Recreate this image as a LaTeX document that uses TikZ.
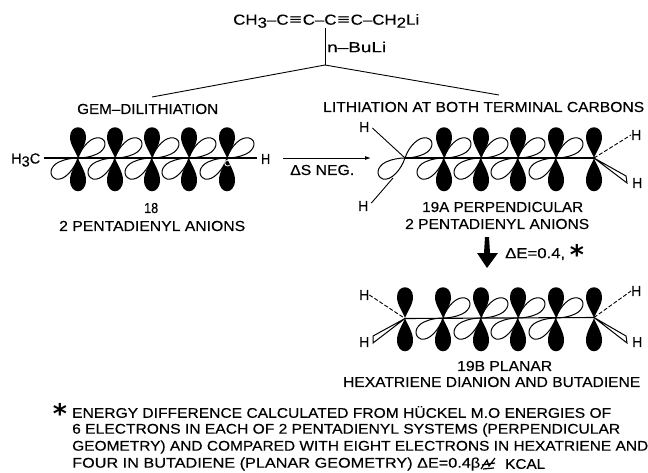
\documentclass[tikz,border=0pt]{standalone}
\usetikzlibrary{arrows.meta}
\usepackage{fontspec}
\setmainfont[FakeBold=0.35]{Liberation Sans}
\newfontfamily\symfont{DejaVu Sans}
\newcommand{\fit}[2]{\resizebox{#1pt}{\height}{#2}}
\newcommand{\subs}[1]{\raisebox{-3pt}{#1}}
\newcommand{\blackp}[2]{\fill[black,shift={(#1,#2)}] (0,0) .. controls (-2,-6) and (-8,-13) .. (-8,-21) .. controls (-8,-34) and (8,-34) .. (8,-21) .. controls (8,-13) and (2,-6) .. (0,0) .. controls (2,6) and (8,14) .. (8,22) .. controls (8,37) and (-8,37) .. (-8,22) .. controls (-8,14) and (-2,6) .. (0,0) -- cycle;}
\newcommand{\whitep}[2]{\draw[orb,shift={(#1,#2)}] (0,0) .. controls (4,-12) and (14,-22) .. (22,-20) .. controls (30,-18) and (28,-8) .. (19,-4) .. controls (13,-1) and (5,0) .. (0,0) .. controls (-5,0) and (-13,1) .. (-19,4) .. controls (-28,8) and (-30,18) .. (-22,21) .. controls (-14,23) and (-4,12) .. (0,0) -- cycle;}
\tikzset{
  orb/.style={draw=black,fill=white,line width=1pt},
  txt/.style={inner sep=0pt,anchor=west,font=\fontsize{14.5}{16}\selectfont,text=black},
  small/.style={inner sep=0pt,anchor=west,font=\fontsize{14}{15}\selectfont,text=black},
  starmark/.style={inner sep=0pt,font=\fontsize{27}{27}\selectfont\symfont\bfseries,text=black},
  bond/.style={line width=0.9pt},
  axisline/.style={line width=1.4pt},
}
\begin{document}
\begin{tikzpicture}[x=1pt,y=-1pt]
\useasboundingbox (0,0) rectangle (648,472);
% top formula
\node[txt] (formula) at (233,21) {\fit{186}{CH\subs{3}–C{\symfont≡}C–C{\symfont≡}C–CH\subs{2}Li}};
\node[txt] (buli) at (327,47) {\fit{59}{n–BuLi}};
\coordinate (fork) at (325,65);
\coordinate (ftop) at (325,28);
\coordinate (fl) at (152,97);
\coordinate (fr) at (499,95);
\draw[bond] (ftop) -- (fork);
\draw[bond] (fl) -- (fork) -- (fr);
\node[txt] (gem) at (77,109) {\fit{141}{GEM–DILITHIATION}};
\node[txt] (lith) at (323,107) {\fit{321}{LITHIATION AT BOTH TERMINAL CARBONS}};
% 18
\foreach \x in {78,115,152,189,227} {\whitep{\x}{158}}
\coordinate (a1) at (44,158); \coordinate (a2) at (257,158);
\draw[axisline] (a1) -- (a2);
\foreach \x in {78,115,152,189,227} {\blackp{\x}{158}}
\draw[white,line width=0.8pt] (230,165) arc (40:320:3);
\node[txt] (h3c) at (11,160) {\fit{29}{H\subs{3}C}};
\node[txt] (hr) at (261,159) {\fit{9}{H}};
\node[txt] (n18) at (144,208) {\fit{14}{18}};
\node[txt] (p18) at (59,226) {\fit{186}{2 PENTADIENYL ANIONS}};
% arrow
\coordinate (ar1) at (283,158); \coordinate (ar2) at (371,158);
\draw[bond,-{Latex[length=6pt,width=4pt]}] (ar1) -- (ar2);
\node[txt] (ds) at (290,170) {\fit{64}{ΔS NEG.}};
% 19A
\foreach \x in {405,444,481,518,556} {\whitep{\x}{158}}
\coordinate (b1) at (405,158); \coordinate (b2) at (594,158);
\draw[axisline] (b1) -- (b2);
\foreach \x in {444,481,518,556,594} {\blackp{\x}{158}}
\node[txt] (ha1) at (359,127) {\fit{10}{H}};
\node[txt] (ha2) at (358,206) {\fit{10}{H}};
\node[txt] (ha3) at (631,135) {\fit{10}{H}};
\node[txt] (ha4) at (632,183) {\fit{10}{H}};
\draw[bond] (ha1.east)++(3,1) -- (b1);
\draw[bond] (ha2.east)++(3,-3) -- (393,178);
\draw[bond,dash pattern=on 4pt off 2pt] (b2) -- (ha3.west);
\draw[orb,line join=miter] (b2) -- (626,176) -- (627,183) -- cycle;
\node[txt] (a19) at (422,207) {\fit{161}{19A PERPENDICULAR}};
\node[txt] (p19) at (405,224) {\fit{184}{2 PENTADIENYL ANIONS}};
% thick arrow
\fill[black] (485,237) -- (489,237) -- (490,253) -- (498,253) -- (487,268) -- (477,253) -- (484,253) -- cycle;
\node[txt] (de) at (505,254) {\fit{60}{ΔE=0.4,}};
\node[starmark] (st1) at (577,254) {*};
% 19B
\foreach \x in {443,481,518,556} {\whitep{\x}{318}}
\coordinate (c1) at (405,318.5); \coordinate (c2) at (594,317.5);
\draw[axisline,line width=1.1pt] (c1) -- (c2);
\foreach \x in {405,443,481,518,556,594} {\blackp{\x}{318}}
\node[txt] (hb1) at (359,295) {\fit{10}{H}};
\node[txt] (hb2) at (359,342) {\fit{10}{H}};
\node[txt] (hb3) at (631,291) {\fit{10}{H}};
\node[txt] (hb4) at (632,342) {\fit{10}{H}};
\draw[bond,dash pattern=on 4pt off 2pt] (hb1.east) -- (c1);
\draw[bond,dash pattern=on 4pt off 2pt] (c2) -- (hb3.west);
\draw[orb,line join=miter] (c1) -- (373,336) -- (373,343) -- cycle;
\draw[orb,line join=miter] (c2) -- (626,336) -- (627,343) -- cycle;
\node[txt] (b19) at (457,366) {\fit{95}{19B PLANAR}};
\node[txt] (hx) at (343,382) {\fit{297}{HEXATRIENE DIANION AND BUTADIENE}};
% footnote
\node[starmark] (st2) at (60,413) {*};
\node[small] (l1) at (72,412) {\fit{539}{ENERGY DIFFERENCE CALCULATED FROM HÜCKEL M.O ENERGIES OF}};
\node[small] (l2) at (72,430) {\fit{548}{6 ELECTRONS IN EACH OF 2 PENTADIENYL SYSTEMS (PERPENDICULAR}};
\node[small] (l3) at (72,447) {\fit{576}{GEOMETRY) AND COMPARED WITH EIGHT ELECTRONS IN HEXATRIENE AND}};
\node[small] (l4) at (72,464) {\fit{408}{FOUR IN BUTADIENE (PLANAR GEOMETRY) ΔE=0.4β}};
\draw[line width=1.2pt] (481,469) -- (487,460) -- (489,466) -- (495,458) (482,465) -- (495,463) (483,469) -- (494,468);
\node[small] (l4b) at (505,464) {\fit{40}{KCAL}};
\end{tikzpicture}
\end{document}
